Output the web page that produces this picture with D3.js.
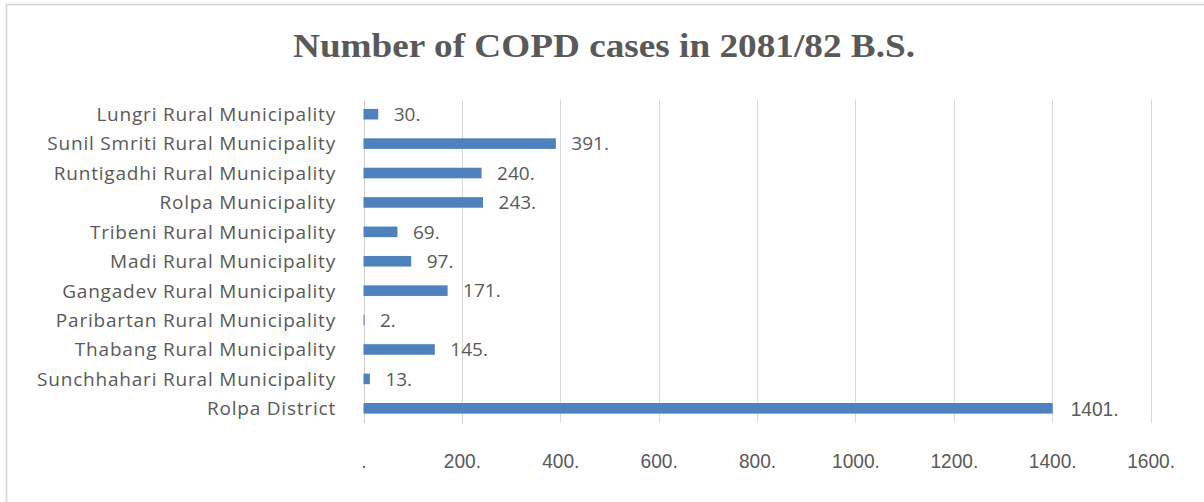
<!DOCTYPE html>
<html>
<head>
<meta charset="utf-8">
<script src="https://cdn.jsdelivr.net/npm/d3@7/dist/d3.min.js"></script>
<style>
  html, body { margin: 0; padding: 0; background: #fff; }
  svg { display: block; }
</style>
</head>
<body>
<svg id="chart" width="1204" height="502"></svg>
<script>
const title = "Number of COPD cases in 2081/82 B.S.";
const categories = [
  "Lungri Rural Municipality",
  "Sunil Smriti Rural Municipality",
  "Runtigadhi Rural Municipality",
  "Rolpa Municipality",
  "Tribeni Rural Municipality",
  "Madi Rural Municipality",
  "Gangadev Rural Municipality",
  "Paribartan Rural Municipality",
  "Thabang Rural Municipality",
  "Sunchhahari Rural Municipality",
  "Rolpa District"
];
const cases = [30, 391, 240, 243, 69, 97, 171, 2, 145, 13, 1401];
const tickValues = [0, 200, 400, 600, 800, 1000, 1200, 1400, 1600];
const tickLabels = [".", "200.", "400.", "600.", "800.", "1000.", "1200.", "1400.", "1600."];

(function () {
const svg = d3.select("#chart");
const textColor = "#595959";
const barColor = "#4F81BD";

// horizontally condense a text element (narrow face look)
function condense(sel, k) {
  sel.each(function () {
    const w = this.getComputedTextLength();
    d3.select(this).attr("textLength", w * k).attr("lengthAdjust", "spacingAndGlyphs");
  });
}

// outer border (right/bottom edges fall outside the picture)
svg.append("rect")
  .attr("x", 6.5).attr("y", 4.5)
  .attr("width", 1300).attr("height", 600)
  .attr("fill", "none")
  .attr("stroke", "#D4D4D4")
  .attr("stroke-width", 1.5);

const plotLeft = 363.5, plotRight = 1150.6, plotTop = 99.5, plotBottom = 423;

const x = d3.scaleLinear().domain([0, 1600]).range([plotLeft, plotRight]);
const y = d3.scaleBand().domain(categories).range([plotTop, plotBottom])
  .paddingInner(0.64).paddingOuter(0.32);

// title
svg.append("text")
  .attr("x", 604).attr("y", 57)
  .attr("text-anchor", "middle")
  .attr("font-family", "'Liberation Serif', 'Times New Roman', serif")
  .attr("font-weight", "bold")
  .attr("font-size", 34)
  .attr("fill", textColor)
  .attr("textLength", 622)
  .attr("lengthAdjust", "spacingAndGlyphs")
  .text(title);

// gridlines
svg.append("g").selectAll("line")
  .data(tickValues.slice(1))
  .join("line")
  .attr("x1", d => Math.round(x(d)) + 0.5).attr("x2", d => Math.round(x(d)) + 0.5)
  .attr("y1", plotTop).attr("y2", plotBottom)
  .attr("stroke", "#D9D9D9").attr("stroke-width", 1);

// vertical axis line
svg.append("line")
  .attr("x1", Math.round(x(0)) + 0.5).attr("x2", Math.round(x(0)) + 0.5)
  .attr("y1", plotTop).attr("y2", plotBottom)
  .attr("stroke", "#D0D0D0").attr("stroke-width", 1);

// x-axis tick labels
const xAxis = d3.axisBottom(x).tickValues(tickValues)
  .tickFormat((d, i) => tickLabels[i]).tickSize(0).tickPadding(0);
const gx = svg.append("g").attr("transform", "translate(0, 453)").call(xAxis);
gx.select(".domain").remove();
gx.selectAll("text")
  .attr("font-family", "'Liberation Sans', Arial, sans-serif")
  .attr("font-size", 21)
  .attr("fill", textColor)
  .attr("dy", "0.72em")
  .call(condense, 0.91);

// y-axis category labels
const yAxis = d3.axisLeft(y).tickSize(0).tickPadding(0);
const gy = svg.append("g").attr("transform", "translate(336, 0)").call(yAxis);
gy.select(".domain").remove();
gy.selectAll("text")
  .attr("font-family", "'Open Sans', sans-serif")
  .attr("font-size", 19)
  .attr("letter-spacing", 0.8)
  .attr("fill", textColor)
  .attr("dy", "0.36em");

// bars
svg.append("g").selectAll("rect")
  .data(categories)
  .join("rect")
  .attr("x", x(0))
  .attr("y", d => y(d))
  .attr("width", (d, i) => x(cases[i]) - x(0))
  .attr("height", y.bandwidth())
  .attr("fill", barColor);

// value labels
const lastIdx = categories.length - 1;
const vl = svg.append("g").selectAll("text")
  .data(categories)
  .join("text")
  .attr("x", (d, i) => x(cases[i]) + (i === lastIdx ? 18 : 15.5))
  .attr("y", d => y(d) + y.bandwidth() / 2)
  .attr("dy", "0.36em")
  .attr("font-family", (d, i) => i === lastIdx ? "'Liberation Sans', Arial, sans-serif" : "'Open Sans', sans-serif")
  .attr("font-size", (d, i) => i === lastIdx ? 21 : 19)
  .attr("fill", textColor)
  .text((d, i) => cases[i] + ".");
vl.filter((d, i) => i === lastIdx).call(condense, 0.91);
})();
</script>
</body>
</html>
